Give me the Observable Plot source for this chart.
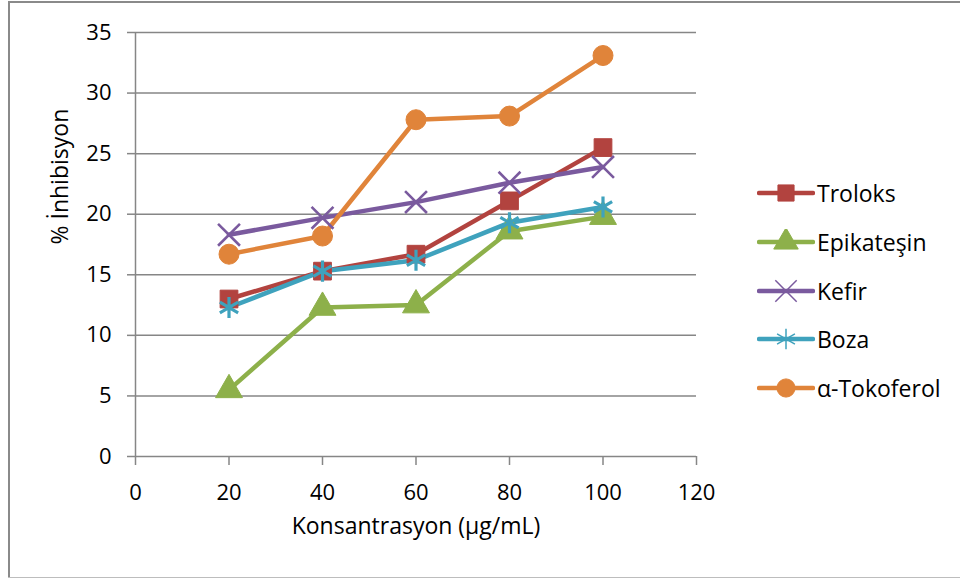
<!DOCTYPE html>
<html>
<head>
<meta charset="utf-8">
<script src="https://cdn.jsdelivr.net/npm/d3@7"></script>
<script src="https://cdn.jsdelivr.net/npm/@observablehq/plot@0.6"></script>
<style>
  html, body { margin: 0; padding: 0; background: #fff; }
  #wrap { position: relative; width: 960px; height: 579px; overflow: hidden; font-family: "Open Sans", sans-serif; }
  #wrap svg.plot { position: absolute; left: 0; top: 0; }
  .bt { position: absolute; left: 8px; top: 1px; width: 952px; height: 2px; background: #8a8a8a; }
  .bl { position: absolute; left: 8px; top: 1px; width: 2px; height: 577px; background: #8a8a8a; }
  .bb { position: absolute; left: 8px; top: 577px; width: 952px; height: 1px; background: #bdbdbd; }
  .leg { position: absolute; left: 757px; height: 26px; display: flex; align-items: center; font-size: 23px; color: #000; white-space: nowrap; }
  .leg svg { display: block; margin-right: 2px; }
</style>
</head>
<body>
<div id="wrap"><div class="bt"></div><div class="bl"></div><div class="bb"></div></div>
<script>
// ---- data ----
const concentrations = [20, 40, 60, 80, 100];
const seriesNames = ["Troloks", "Epikateşin", "Kefir", "Boza", "α-Tokoferol"];
const troloks    = [13.0, 15.3, 16.7, 21.1, 25.5];
const epikatesin = [5.5, 12.3, 12.5, 18.6, 19.8];
const kefir      = [18.3, 19.7, 21.0, 22.6, 23.9];
const boza       = [12.3, 15.3, 16.2, 19.3, 20.6];
const tokoferol  = [16.7, 18.2, 27.8, 28.1, 33.1];
const xTicks = [0, 20, 40, 60, 80, 100, 120];
const yTicks = [0, 5, 10, 15, 20, 25, 30, 35];
const xTitle = "Konsantrasyon (µg/mL)";
const yTitle = "% İnhibisyon";

// ---- styles ----
const colors = ["#B2433F", "#8DB04A", "#7A5A9E", "#3FA2BD", "#E0843A"];
const symbols = ["square", "triangle", "times", "asterisk", "circle"];
const axisGray = "#868686";

const valuesBySeries = [troloks, epikatesin, kefir, boza, tokoferol];
const data = [];
seriesNames.forEach((s, i) => {
  valuesBySeries[i].forEach((v, j) => data.push({series: s, x: concentrations[j], y: v}));
});
const filledSet = new Set(["Troloks", "Epikateşin", "α-Tokoferol"]);

const chart = Plot.plot({
  width: 960,
  height: 579,
  marginLeft: 135,
  marginRight: 264,
  marginTop: 32,
  marginBottom: 123,
  style: {fontFamily: "Open Sans, sans-serif", fontSize: "22px", color: "#000", background: "transparent"},
  x: {domain: [0, 120], label: null},
  y: {domain: [0, 35], label: null},
  color: {domain: seriesNames, range: colors},
  symbol: {domain: seriesNames, range: symbols},
  marks: [
    Plot.gridY(yTicks, {stroke: axisGray, strokeOpacity: 1, strokeWidth: 1.5}),
    Plot.ruleX([0], {stroke: axisGray, strokeWidth: 1.5}),
    Plot.axisY(yTicks, {tickSize: 8, tickPadding: 16, stroke: axisGray, strokeWidth: 1.5, fill: "#000", fontSize: 22}),
    Plot.axisX(xTicks, {tickSize: 9, tickPadding: 19, stroke: axisGray, strokeWidth: 1.5, fill: "#000", fontSize: 22}),
    Plot.line(data, {x: "x", y: "y", z: "series", stroke: "series", strokeWidth: 4.5, strokeLinejoin: "round", strokeLinecap: "round"}),
    Plot.dot(data.filter(d => filledSet.has(d.series)), {x: "x", y: "y", symbol: "series", fill: "series", stroke: "series", strokeWidth: 1, r: 10}),
    Plot.dot(data.filter(d => d.series === "Kefir"), {x: "x", y: "y", symbol: "series", stroke: "series", strokeWidth: 2.6, r: 10}),
    Plot.dot(data.filter(d => d.series === "Boza"), {x: "x", y: "y", symbol: "series", stroke: "series", strokeWidth: 3.2, r: 10}),
    Plot.text([yTitle], {frameAnchor: "left", dx: -75, rotate: -90, fontSize: 23, fill: "#000"}),
    Plot.text([xTitle], {frameAnchor: "bottom", dy: 77, fontSize: 23, fill: "#000"})
  ]
});
chart.classList.add("plot");
const wrap = document.getElementById("wrap");
wrap.appendChild(chart);

// ---- legend ----
const d3Sym = {square: d3.symbolSquare, triangle: d3.symbolTriangle, times: d3.symbolTimes, asterisk: d3.symbolAsterisk, circle: d3.symbolCircle};
seriesNames.forEach((s, i) => {
  const row = document.createElement("div");
  row.className = "leg";
  row.style.top = (193 + i * 48.75 - 13) + "px";
  const svg = d3.create("svg").attr("width", 58).attr("height", 26);
  svg.append("line").attr("x1", 2).attr("x2", 56).attr("y1", 13).attr("y2", 13)
    .attr("stroke", colors[i]).attr("stroke-width", 4.5).attr("stroke-linecap", "round");
  const filled = filledSet.has(s);
  svg.append("path").attr("transform", "translate(29,13)")
    .attr("d", d3.symbol(d3Sym[symbols[i]], filled ? 260 : 300)())
    .attr("fill", filled ? colors[i] : "none")
    .attr("stroke", colors[i]).attr("stroke-width", filled ? 1 : 1.5);
  row.appendChild(svg.node());
  const t = document.createElement("span");
  t.textContent = s;
  row.appendChild(t);
  wrap.appendChild(row);
});
</script>
</body>
</html>
